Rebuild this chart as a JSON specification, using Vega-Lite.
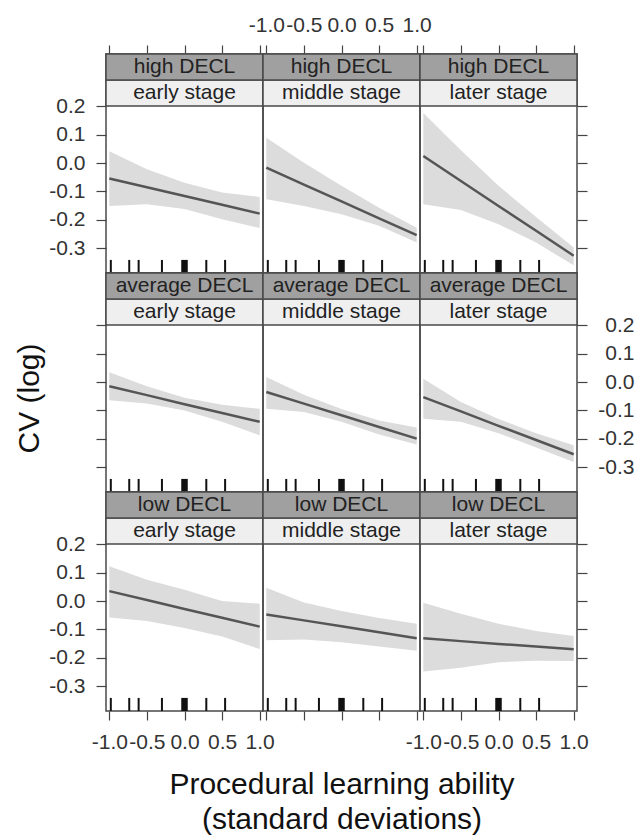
{
  "$schema": "https://vega.github.io/schema/vega-lite/v6.json",
  "padding": {"left": 13, "top": 13, "right": 4, "bottom": 2},
  "background": "white",
  "config": {
    "view": {"stroke": "#4a4a4a", "strokeWidth": 1.5},
    "font": "Liberation Sans",
    "axis": {"labelFont": "Liberation Sans", "labelFontSize": 21, "labelColor": "#333", "labelOverlap": false, "labelFlush": false, "tickColor": "#444", "tickSize": 9, "tickWidth": 1.2, "domain": false, "grid": false, "titleFont": "Liberation Sans", "titleFontSize": 30, "titleFontWeight": "normal", "titleColor": "#111"}
  },
  "datasets": {
    "fx": [
      {"decl": "high DECL", "stage": "early stage", "x": -1, "fit": -0.054, "lower": -0.151, "upper": 0.042},
      {"decl": "high DECL", "stage": "early stage", "x": -0.5, "fit": -0.085, "lower": -0.145, "upper": -0.022},
      {"decl": "high DECL", "stage": "early stage", "x": 0, "fit": -0.116, "lower": -0.162, "upper": -0.069},
      {"decl": "high DECL", "stage": "early stage", "x": 0.5, "fit": -0.147, "lower": -0.198, "upper": -0.104},
      {"decl": "high DECL", "stage": "early stage", "x": 1, "fit": -0.178, "lower": -0.229, "upper": -0.119},
      {"decl": "high DECL", "stage": "middle stage", "x": -1, "fit": -0.016, "lower": -0.127, "upper": 0.089},
      {"decl": "high DECL", "stage": "middle stage", "x": -0.5, "fit": -0.0755, "lower": -0.151, "upper": 0.001},
      {"decl": "high DECL", "stage": "middle stage", "x": 0, "fit": -0.135, "lower": -0.18, "upper": -0.08},
      {"decl": "high DECL", "stage": "middle stage", "x": 0.5, "fit": -0.1945, "lower": -0.221, "upper": -0.157},
      {"decl": "high DECL", "stage": "middle stage", "x": 1, "fit": -0.254, "lower": -0.28, "upper": -0.228},
      {"decl": "high DECL", "stage": "later stage", "x": -1, "fit": 0.025, "lower": -0.145, "upper": 0.176},
      {"decl": "high DECL", "stage": "later stage", "x": -0.5, "fit": -0.063, "lower": -0.165, "upper": 0.045},
      {"decl": "high DECL", "stage": "later stage", "x": 0, "fit": -0.151, "lower": -0.215, "upper": -0.08},
      {"decl": "high DECL", "stage": "later stage", "x": 0.5, "fit": -0.238, "lower": -0.28, "upper": -0.19},
      {"decl": "high DECL", "stage": "later stage", "x": 1, "fit": -0.326, "lower": -0.36, "upper": -0.297},
      {"decl": "average DECL", "stage": "early stage", "x": -1, "fit": -0.015, "lower": -0.064, "upper": 0.035},
      {"decl": "average DECL", "stage": "early stage", "x": -0.5, "fit": -0.046, "lower": -0.075, "upper": -0.015},
      {"decl": "average DECL", "stage": "early stage", "x": 0, "fit": -0.078, "lower": -0.1, "upper": -0.055},
      {"decl": "average DECL", "stage": "early stage", "x": 0.5, "fit": -0.109, "lower": -0.14, "upper": -0.08},
      {"decl": "average DECL", "stage": "early stage", "x": 1, "fit": -0.14, "lower": -0.187, "upper": -0.094},
      {"decl": "average DECL", "stage": "middle stage", "x": -1, "fit": -0.035, "lower": -0.094, "upper": 0.018},
      {"decl": "average DECL", "stage": "middle stage", "x": -0.5, "fit": -0.076, "lower": -0.105, "upper": -0.045},
      {"decl": "average DECL", "stage": "middle stage", "x": 0, "fit": -0.117, "lower": -0.14, "upper": -0.095},
      {"decl": "average DECL", "stage": "middle stage", "x": 0.5, "fit": -0.158, "lower": -0.185, "upper": -0.135},
      {"decl": "average DECL", "stage": "middle stage", "x": 1, "fit": -0.199, "lower": -0.22, "upper": -0.16},
      {"decl": "average DECL", "stage": "later stage", "x": -1, "fit": -0.053, "lower": -0.129, "upper": 0.012},
      {"decl": "average DECL", "stage": "later stage", "x": -0.5, "fit": -0.103, "lower": -0.14, "upper": -0.07},
      {"decl": "average DECL", "stage": "later stage", "x": 0, "fit": -0.154, "lower": -0.18, "upper": -0.13},
      {"decl": "average DECL", "stage": "later stage", "x": 0.5, "fit": -0.204, "lower": -0.23, "upper": -0.18},
      {"decl": "average DECL", "stage": "later stage", "x": 1, "fit": -0.254, "lower": -0.281, "upper": -0.222},
      {"decl": "low DECL", "stage": "early stage", "x": -1, "fit": 0.035, "lower": -0.058, "upper": 0.123},
      {"decl": "low DECL", "stage": "early stage", "x": -0.5, "fit": 0.004, "lower": -0.07, "upper": 0.075},
      {"decl": "low DECL", "stage": "early stage", "x": 0, "fit": -0.028, "lower": -0.095, "upper": 0.04},
      {"decl": "low DECL", "stage": "early stage", "x": 0.5, "fit": -0.059, "lower": -0.125, "upper": 0.0},
      {"decl": "low DECL", "stage": "early stage", "x": 1, "fit": -0.09, "lower": -0.169, "upper": -0.009},
      {"decl": "low DECL", "stage": "middle stage", "x": -1, "fit": -0.047, "lower": -0.138, "upper": 0.047},
      {"decl": "low DECL", "stage": "middle stage", "x": -0.5, "fit": -0.068, "lower": -0.135, "upper": -0.005},
      {"decl": "low DECL", "stage": "middle stage", "x": 0, "fit": -0.089, "lower": -0.145, "upper": -0.035},
      {"decl": "low DECL", "stage": "middle stage", "x": 0.5, "fit": -0.11, "lower": -0.16, "upper": -0.06},
      {"decl": "low DECL", "stage": "middle stage", "x": 1, "fit": -0.131, "lower": -0.175, "upper": -0.08},
      {"decl": "low DECL", "stage": "later stage", "x": -1, "fit": -0.131, "lower": -0.248, "upper": -0.006},
      {"decl": "low DECL", "stage": "later stage", "x": -0.5, "fit": -0.141, "lower": -0.235, "upper": -0.045},
      {"decl": "low DECL", "stage": "later stage", "x": 0, "fit": -0.151, "lower": -0.215, "upper": -0.08},
      {"decl": "low DECL", "stage": "later stage", "x": 0.5, "fit": -0.16, "lower": -0.21, "upper": -0.105},
      {"decl": "low DECL", "stage": "later stage", "x": 1, "fit": -0.17, "lower": -0.211, "upper": -0.123}
    ],
    "rug": [
      {"x": -0.98}, {"x": -0.735}, {"x": -0.61}, {"x": -0.3}, {"x": -0.03}, {"x": -0.015}, {"x": 0}, {"x": 0.015}, {"x": 0.03}, {"x": 0.29}, {"x": 0.54}
    ],
    "panels": [
      {"decl": "high DECL", "stage": "early stage"},
      {"decl": "high DECL", "stage": "middle stage"},
      {"decl": "high DECL", "stage": "later stage"},
      {"decl": "average DECL", "stage": "early stage"},
      {"decl": "average DECL", "stage": "middle stage"},
      {"decl": "average DECL", "stage": "later stage"},
      {"decl": "low DECL", "stage": "early stage"},
      {"decl": "low DECL", "stage": "middle stage"},
      {"decl": "low DECL", "stage": "later stage"}
    ]
  },
  "columns": 3,
  "spacing": 0,
  "bounds": "flush",
  "concat": [
    {
      "width": 157, "height": 219,
      "layer": [
        {"data": {"name": "fx"}, "transform": [{"filter": "datum.decl == 'high DECL' && datum.stage == 'early stage'"}], "mark": {"type": "area", "color": "#dcdcdc"},
         "encoding": {"x": {"field": "x", "type": "quantitative", "scale": {"domain": [-1.044, 1.044], "nice": false, "zero": false},
            "axis": {"orient": "top", "values": [-1, -0.5, 0, 0.5, 1], "tickCount": 10, "title": null, "labels": false}},
          "y": {"field": "lower", "type": "quantitative", "scale": {"domain": [-0.387, 0.384], "nice": false, "zero": false},
            "axis": {"orient": "left", "values": [-0.3, -0.2, -0.1, 0, 0.1, 0.2], "tickCount": 10, "title": null, "tickSize": 10, "labelPadding": 11, "labelExpr": "(datum.value < 0 ? '-' : '') + format(abs(datum.value), '.1f')"}},
          "y2": {"field": "upper"}}},
        {"data": {"name": "fx"}, "transform": [{"filter": "datum.decl == 'high DECL' && datum.stage == 'early stage'"}], "mark": {"type": "line", "color": "#555", "strokeWidth": 2.5},
         "encoding": {"x": {"field": "x", "type": "quantitative"}, "y": {"field": "fit", "type": "quantitative"}}},
        {"data": {"name": "rug"}, "mark": {"type": "rule", "color": "#111", "strokeWidth": 2},
         "encoding": {"x": {"field": "x", "type": "quantitative"}, "y": {"datum": -0.387, "type": "quantitative"}, "y2": {"datum": -0.341}}},
        {"data": {"name": "panels"}, "transform": [{"filter": "datum.decl == 'high DECL' && datum.stage == 'early stage'"}], "mark": {"type": "rect", "fill": "#efefef", "stroke": "#4a4a4a", "strokeWidth": 1.5},
         "encoding": {"x": {"datum": -1.044, "type": "quantitative"}, "x2": {"datum": 1.044}, "y": {"datum": 0.201, "type": "quantitative"}, "y2": {"datum": 0.2925}}},
        {"data": {"name": "panels"}, "transform": [{"filter": "datum.decl == 'high DECL' && datum.stage == 'early stage'"}], "mark": {"type": "rect", "fill": "#a0a0a0", "stroke": "#4a4a4a", "strokeWidth": 1.5},
         "encoding": {"x": {"datum": -1.044, "type": "quantitative"}, "x2": {"datum": 1.044}, "y": {"datum": 0.2925, "type": "quantitative"}, "y2": {"datum": 0.384}}},
        {"data": {"name": "panels"}, "transform": [{"filter": "datum.decl == 'high DECL' && datum.stage == 'early stage'"}], "mark": {"type": "text", "fontSize": 21, "color": "#222", "baseline": "middle"},
         "encoding": {"x": {"datum": 0, "type": "quantitative"}, "y": {"datum": 0.2465, "type": "quantitative"}, "text": {"field": "stage"}}},
        {"data": {"name": "panels"}, "transform": [{"filter": "datum.decl == 'high DECL' && datum.stage == 'early stage'"}], "mark": {"type": "text", "fontSize": 21, "color": "#222", "baseline": "middle"},
         "encoding": {"x": {"datum": 0, "type": "quantitative"}, "y": {"datum": 0.338, "type": "quantitative"}, "text": {"field": "decl"}}}
      ]
    },
    {
      "width": 157, "height": 219,
      "layer": [
        {"data": {"name": "fx"}, "transform": [{"filter": "datum.decl == 'high DECL' && datum.stage == 'middle stage'"}], "mark": {"type": "area", "color": "#dcdcdc"},
         "encoding": {"x": {"field": "x", "type": "quantitative", "scale": {"domain": [-1.044, 1.044], "nice": false, "zero": false},
            "axis": {"orient": "top", "values": [-1, -0.5, 0, 0.5, 1], "tickCount": 10, "title": null, "labels": true, "labelBaseline": "alphabetic", "labelPadding": 14, "labelExpr": "(datum.value < 0 ? '-' : '') + format(abs(datum.value), '.1f')"}},
          "y": {"field": "lower", "type": "quantitative", "scale": {"domain": [-0.387, 0.384], "nice": false, "zero": false}, "axis": null},
          "y2": {"field": "upper"}}},
        {"data": {"name": "fx"}, "transform": [{"filter": "datum.decl == 'high DECL' && datum.stage == 'middle stage'"}], "mark": {"type": "line", "color": "#555", "strokeWidth": 2.5},
         "encoding": {"x": {"field": "x", "type": "quantitative"}, "y": {"field": "fit", "type": "quantitative", "axis": null}}},
        {"data": {"name": "rug"}, "mark": {"type": "rule", "color": "#111", "strokeWidth": 2},
         "encoding": {"x": {"field": "x", "type": "quantitative"}, "y": {"datum": -0.387, "type": "quantitative", "axis": null}, "y2": {"datum": -0.341}}},
        {"data": {"name": "panels"}, "transform": [{"filter": "datum.decl == 'high DECL' && datum.stage == 'middle stage'"}], "mark": {"type": "rect", "fill": "#efefef", "stroke": "#4a4a4a", "strokeWidth": 1.5},
         "encoding": {"x": {"datum": -1.044, "type": "quantitative"}, "x2": {"datum": 1.044}, "y": {"datum": 0.201, "type": "quantitative", "axis": null}, "y2": {"datum": 0.2925}}},
        {"data": {"name": "panels"}, "transform": [{"filter": "datum.decl == 'high DECL' && datum.stage == 'middle stage'"}], "mark": {"type": "rect", "fill": "#a0a0a0", "stroke": "#4a4a4a", "strokeWidth": 1.5},
         "encoding": {"x": {"datum": -1.044, "type": "quantitative"}, "x2": {"datum": 1.044}, "y": {"datum": 0.2925, "type": "quantitative", "axis": null}, "y2": {"datum": 0.384}}},
        {"data": {"name": "panels"}, "transform": [{"filter": "datum.decl == 'high DECL' && datum.stage == 'middle stage'"}], "mark": {"type": "text", "fontSize": 21, "color": "#222", "baseline": "middle"},
         "encoding": {"x": {"datum": 0, "type": "quantitative"}, "y": {"datum": 0.2465, "type": "quantitative", "axis": null}, "text": {"field": "stage"}}},
        {"data": {"name": "panels"}, "transform": [{"filter": "datum.decl == 'high DECL' && datum.stage == 'middle stage'"}], "mark": {"type": "text", "fontSize": 21, "color": "#222", "baseline": "middle"},
         "encoding": {"x": {"datum": 0, "type": "quantitative"}, "y": {"datum": 0.338, "type": "quantitative", "axis": null}, "text": {"field": "decl"}}}
      ]
    },
    {
      "width": 157, "height": 219,
      "layer": [
        {"data": {"name": "fx"}, "transform": [{"filter": "datum.decl == 'high DECL' && datum.stage == 'later stage'"}], "mark": {"type": "area", "color": "#dcdcdc"},
         "encoding": {"x": {"field": "x", "type": "quantitative", "scale": {"domain": [-1.044, 1.044], "nice": false, "zero": false},
            "axis": {"orient": "top", "values": [-1, -0.5, 0, 0.5, 1], "tickCount": 10, "title": null, "labels": false}},
          "y": {"field": "lower", "type": "quantitative", "scale": {"domain": [-0.387, 0.384], "nice": false, "zero": false},
            "axis": {"orient": "right", "values": [-0.3, -0.2, -0.1, 0, 0.1, 0.2], "tickCount": 10, "title": null, "tickSize": 10, "labels": false}},
          "y2": {"field": "upper"}}},
        {"data": {"name": "fx"}, "transform": [{"filter": "datum.decl == 'high DECL' && datum.stage == 'later stage'"}], "mark": {"type": "line", "color": "#555", "strokeWidth": 2.5},
         "encoding": {"x": {"field": "x", "type": "quantitative"}, "y": {"field": "fit", "type": "quantitative"}}},
        {"data": {"name": "rug"}, "mark": {"type": "rule", "color": "#111", "strokeWidth": 2},
         "encoding": {"x": {"field": "x", "type": "quantitative"}, "y": {"datum": -0.387, "type": "quantitative"}, "y2": {"datum": -0.341}}},
        {"data": {"name": "panels"}, "transform": [{"filter": "datum.decl == 'high DECL' && datum.stage == 'later stage'"}], "mark": {"type": "rect", "fill": "#efefef", "stroke": "#4a4a4a", "strokeWidth": 1.5},
         "encoding": {"x": {"datum": -1.044, "type": "quantitative"}, "x2": {"datum": 1.044}, "y": {"datum": 0.201, "type": "quantitative"}, "y2": {"datum": 0.2925}}},
        {"data": {"name": "panels"}, "transform": [{"filter": "datum.decl == 'high DECL' && datum.stage == 'later stage'"}], "mark": {"type": "rect", "fill": "#a0a0a0", "stroke": "#4a4a4a", "strokeWidth": 1.5},
         "encoding": {"x": {"datum": -1.044, "type": "quantitative"}, "x2": {"datum": 1.044}, "y": {"datum": 0.2925, "type": "quantitative"}, "y2": {"datum": 0.384}}},
        {"data": {"name": "panels"}, "transform": [{"filter": "datum.decl == 'high DECL' && datum.stage == 'later stage'"}], "mark": {"type": "text", "fontSize": 21, "color": "#222", "baseline": "middle"},
         "encoding": {"x": {"datum": 0, "type": "quantitative"}, "y": {"datum": 0.2465, "type": "quantitative"}, "text": {"field": "stage"}}},
        {"data": {"name": "panels"}, "transform": [{"filter": "datum.decl == 'high DECL' && datum.stage == 'later stage'"}], "mark": {"type": "text", "fontSize": 21, "color": "#222", "baseline": "middle"},
         "encoding": {"x": {"datum": 0, "type": "quantitative"}, "y": {"datum": 0.338, "type": "quantitative"}, "text": {"field": "decl"}}}
      ]
    },
    {
      "width": 157, "height": 219,
      "layer": [
        {"data": {"name": "fx"}, "transform": [{"filter": "datum.decl == 'average DECL' && datum.stage == 'early stage'"}], "mark": {"type": "area", "color": "#dcdcdc"},
         "encoding": {"x": {"field": "x", "type": "quantitative", "scale": {"domain": [-1.044, 1.044], "nice": false, "zero": false}, "axis": null},
          "y": {"field": "lower", "type": "quantitative", "scale": {"domain": [-0.387, 0.384], "nice": false, "zero": false},
            "axis": {"orient": "left", "values": [-0.3, -0.2, -0.1, 0, 0.1, 0.2], "tickCount": 10, "tickSize": 10, "labels": false, "title": "CV (log)", "titleX": -77, "titleY": 125, "titleAngle": -90, "titleAlign": "center", "titleBaseline": "middle"}},
          "y2": {"field": "upper"}}},
        {"data": {"name": "fx"}, "transform": [{"filter": "datum.decl == 'average DECL' && datum.stage == 'early stage'"}], "mark": {"type": "line", "color": "#555", "strokeWidth": 2.5},
         "encoding": {"x": {"field": "x", "type": "quantitative", "axis": null}, "y": {"field": "fit", "type": "quantitative"}}},
        {"data": {"name": "rug"}, "mark": {"type": "rule", "color": "#111", "strokeWidth": 2},
         "encoding": {"x": {"field": "x", "type": "quantitative", "axis": null}, "y": {"datum": -0.387, "type": "quantitative"}, "y2": {"datum": -0.341}}},
        {"data": {"name": "panels"}, "transform": [{"filter": "datum.decl == 'average DECL' && datum.stage == 'early stage'"}], "mark": {"type": "rect", "fill": "#efefef", "stroke": "#4a4a4a", "strokeWidth": 1.5},
         "encoding": {"x": {"datum": -1.044, "type": "quantitative", "axis": null}, "x2": {"datum": 1.044}, "y": {"datum": 0.201, "type": "quantitative"}, "y2": {"datum": 0.2925}}},
        {"data": {"name": "panels"}, "transform": [{"filter": "datum.decl == 'average DECL' && datum.stage == 'early stage'"}], "mark": {"type": "rect", "fill": "#a0a0a0", "stroke": "#4a4a4a", "strokeWidth": 1.5},
         "encoding": {"x": {"datum": -1.044, "type": "quantitative", "axis": null}, "x2": {"datum": 1.044}, "y": {"datum": 0.2925, "type": "quantitative"}, "y2": {"datum": 0.384}}},
        {"data": {"name": "panels"}, "transform": [{"filter": "datum.decl == 'average DECL' && datum.stage == 'early stage'"}], "mark": {"type": "text", "fontSize": 21, "color": "#222", "baseline": "middle"},
         "encoding": {"x": {"datum": 0, "type": "quantitative", "axis": null}, "y": {"datum": 0.2465, "type": "quantitative"}, "text": {"field": "stage"}}},
        {"data": {"name": "panels"}, "transform": [{"filter": "datum.decl == 'average DECL' && datum.stage == 'early stage'"}], "mark": {"type": "text", "fontSize": 21, "color": "#222", "baseline": "middle"},
         "encoding": {"x": {"datum": 0, "type": "quantitative", "axis": null}, "y": {"datum": 0.338, "type": "quantitative"}, "text": {"field": "decl"}}}
      ]
    },
    {
      "width": 157, "height": 219,
      "layer": [
        {"data": {"name": "fx"}, "transform": [{"filter": "datum.decl == 'average DECL' && datum.stage == 'middle stage'"}], "mark": {"type": "area", "color": "#dcdcdc"},
         "encoding": {"x": {"field": "x", "type": "quantitative", "scale": {"domain": [-1.044, 1.044], "nice": false, "zero": false}, "axis": null},
          "y": {"field": "lower", "type": "quantitative", "scale": {"domain": [-0.387, 0.384], "nice": false, "zero": false}, "axis": null},
          "y2": {"field": "upper"}}},
        {"data": {"name": "fx"}, "transform": [{"filter": "datum.decl == 'average DECL' && datum.stage == 'middle stage'"}], "mark": {"type": "line", "color": "#555", "strokeWidth": 2.5},
         "encoding": {"x": {"field": "x", "type": "quantitative", "axis": null}, "y": {"field": "fit", "type": "quantitative", "axis": null}}},
        {"data": {"name": "rug"}, "mark": {"type": "rule", "color": "#111", "strokeWidth": 2},
         "encoding": {"x": {"field": "x", "type": "quantitative", "axis": null}, "y": {"datum": -0.387, "type": "quantitative", "axis": null}, "y2": {"datum": -0.341}}},
        {"data": {"name": "panels"}, "transform": [{"filter": "datum.decl == 'average DECL' && datum.stage == 'middle stage'"}], "mark": {"type": "rect", "fill": "#efefef", "stroke": "#4a4a4a", "strokeWidth": 1.5},
         "encoding": {"x": {"datum": -1.044, "type": "quantitative", "axis": null}, "x2": {"datum": 1.044}, "y": {"datum": 0.201, "type": "quantitative", "axis": null}, "y2": {"datum": 0.2925}}},
        {"data": {"name": "panels"}, "transform": [{"filter": "datum.decl == 'average DECL' && datum.stage == 'middle stage'"}], "mark": {"type": "rect", "fill": "#a0a0a0", "stroke": "#4a4a4a", "strokeWidth": 1.5},
         "encoding": {"x": {"datum": -1.044, "type": "quantitative", "axis": null}, "x2": {"datum": 1.044}, "y": {"datum": 0.2925, "type": "quantitative", "axis": null}, "y2": {"datum": 0.384}}},
        {"data": {"name": "panels"}, "transform": [{"filter": "datum.decl == 'average DECL' && datum.stage == 'middle stage'"}], "mark": {"type": "text", "fontSize": 21, "color": "#222", "baseline": "middle"},
         "encoding": {"x": {"datum": 0, "type": "quantitative", "axis": null}, "y": {"datum": 0.2465, "type": "quantitative", "axis": null}, "text": {"field": "stage"}}},
        {"data": {"name": "panels"}, "transform": [{"filter": "datum.decl == 'average DECL' && datum.stage == 'middle stage'"}], "mark": {"type": "text", "fontSize": 21, "color": "#222", "baseline": "middle"},
         "encoding": {"x": {"datum": 0, "type": "quantitative", "axis": null}, "y": {"datum": 0.338, "type": "quantitative", "axis": null}, "text": {"field": "decl"}}}
      ]
    },
    {
      "width": 157, "height": 219,
      "layer": [
        {"data": {"name": "fx"}, "transform": [{"filter": "datum.decl == 'average DECL' && datum.stage == 'later stage'"}], "mark": {"type": "area", "color": "#dcdcdc"},
         "encoding": {"x": {"field": "x", "type": "quantitative", "scale": {"domain": [-1.044, 1.044], "nice": false, "zero": false}, "axis": null},
          "y": {"field": "lower", "type": "quantitative", "scale": {"domain": [-0.387, 0.384], "nice": false, "zero": false},
            "axis": {"orient": "right", "values": [-0.3, -0.2, -0.1, 0, 0.1, 0.2], "tickCount": 10, "title": null, "tickSize": 10, "labels": true, "labelAlign": "right", "labelPadding": 47, "labelExpr": "(datum.value < 0 ? '-' : '') + format(abs(datum.value), '.1f')"}},
          "y2": {"field": "upper"}}},
        {"data": {"name": "fx"}, "transform": [{"filter": "datum.decl == 'average DECL' && datum.stage == 'later stage'"}], "mark": {"type": "line", "color": "#555", "strokeWidth": 2.5},
         "encoding": {"x": {"field": "x", "type": "quantitative", "axis": null}, "y": {"field": "fit", "type": "quantitative"}}},
        {"data": {"name": "rug"}, "mark": {"type": "rule", "color": "#111", "strokeWidth": 2},
         "encoding": {"x": {"field": "x", "type": "quantitative", "axis": null}, "y": {"datum": -0.387, "type": "quantitative"}, "y2": {"datum": -0.341}}},
        {"data": {"name": "panels"}, "transform": [{"filter": "datum.decl == 'average DECL' && datum.stage == 'later stage'"}], "mark": {"type": "rect", "fill": "#efefef", "stroke": "#4a4a4a", "strokeWidth": 1.5},
         "encoding": {"x": {"datum": -1.044, "type": "quantitative", "axis": null}, "x2": {"datum": 1.044}, "y": {"datum": 0.201, "type": "quantitative"}, "y2": {"datum": 0.2925}}},
        {"data": {"name": "panels"}, "transform": [{"filter": "datum.decl == 'average DECL' && datum.stage == 'later stage'"}], "mark": {"type": "rect", "fill": "#a0a0a0", "stroke": "#4a4a4a", "strokeWidth": 1.5},
         "encoding": {"x": {"datum": -1.044, "type": "quantitative", "axis": null}, "x2": {"datum": 1.044}, "y": {"datum": 0.2925, "type": "quantitative"}, "y2": {"datum": 0.384}}},
        {"data": {"name": "panels"}, "transform": [{"filter": "datum.decl == 'average DECL' && datum.stage == 'later stage'"}], "mark": {"type": "text", "fontSize": 21, "color": "#222", "baseline": "middle"},
         "encoding": {"x": {"datum": 0, "type": "quantitative", "axis": null}, "y": {"datum": 0.2465, "type": "quantitative"}, "text": {"field": "stage"}}},
        {"data": {"name": "panels"}, "transform": [{"filter": "datum.decl == 'average DECL' && datum.stage == 'later stage'"}], "mark": {"type": "text", "fontSize": 21, "color": "#222", "baseline": "middle"},
         "encoding": {"x": {"datum": 0, "type": "quantitative", "axis": null}, "y": {"datum": 0.338, "type": "quantitative"}, "text": {"field": "decl"}}}
      ]
    },
    {
      "width": 157, "height": 219,
      "layer": [
        {"data": {"name": "fx"}, "transform": [{"filter": "datum.decl == 'low DECL' && datum.stage == 'early stage'"}], "mark": {"type": "area", "color": "#dcdcdc"},
         "encoding": {"x": {"field": "x", "type": "quantitative", "scale": {"domain": [-1.044, 1.044], "nice": false, "zero": false},
            "axis": {"orient": "bottom", "values": [-1, -0.5, 0, 0.5, 1], "tickCount": 10, "title": null, "labels": true, "labelBaseline": "top", "labelPadding": 11, "labelExpr": "(datum.value < 0 ? '-' : '') + format(abs(datum.value), '.1f')"}},
          "y": {"field": "lower", "type": "quantitative", "scale": {"domain": [-0.387, 0.384], "nice": false, "zero": false},
            "axis": {"orient": "left", "values": [-0.3, -0.2, -0.1, 0, 0.1, 0.2], "tickCount": 10, "title": null, "tickSize": 10, "labelPadding": 11, "labelExpr": "(datum.value < 0 ? '-' : '') + format(abs(datum.value), '.1f')"}},
          "y2": {"field": "upper"}}},
        {"data": {"name": "fx"}, "transform": [{"filter": "datum.decl == 'low DECL' && datum.stage == 'early stage'"}], "mark": {"type": "line", "color": "#555", "strokeWidth": 2.5},
         "encoding": {"x": {"field": "x", "type": "quantitative"}, "y": {"field": "fit", "type": "quantitative"}}},
        {"data": {"name": "rug"}, "mark": {"type": "rule", "color": "#111", "strokeWidth": 2},
         "encoding": {"x": {"field": "x", "type": "quantitative"}, "y": {"datum": -0.387, "type": "quantitative"}, "y2": {"datum": -0.341}}},
        {"data": {"name": "panels"}, "transform": [{"filter": "datum.decl == 'low DECL' && datum.stage == 'early stage'"}], "mark": {"type": "rect", "fill": "#efefef", "stroke": "#4a4a4a", "strokeWidth": 1.5},
         "encoding": {"x": {"datum": -1.044, "type": "quantitative"}, "x2": {"datum": 1.044}, "y": {"datum": 0.201, "type": "quantitative"}, "y2": {"datum": 0.2925}}},
        {"data": {"name": "panels"}, "transform": [{"filter": "datum.decl == 'low DECL' && datum.stage == 'early stage'"}], "mark": {"type": "rect", "fill": "#a0a0a0", "stroke": "#4a4a4a", "strokeWidth": 1.5},
         "encoding": {"x": {"datum": -1.044, "type": "quantitative"}, "x2": {"datum": 1.044}, "y": {"datum": 0.2925, "type": "quantitative"}, "y2": {"datum": 0.384}}},
        {"data": {"name": "panels"}, "transform": [{"filter": "datum.decl == 'low DECL' && datum.stage == 'early stage'"}], "mark": {"type": "text", "fontSize": 21, "color": "#222", "baseline": "middle"},
         "encoding": {"x": {"datum": 0, "type": "quantitative"}, "y": {"datum": 0.2465, "type": "quantitative"}, "text": {"field": "stage"}}},
        {"data": {"name": "panels"}, "transform": [{"filter": "datum.decl == 'low DECL' && datum.stage == 'early stage'"}], "mark": {"type": "text", "fontSize": 21, "color": "#222", "baseline": "middle"},
         "encoding": {"x": {"datum": 0, "type": "quantitative"}, "y": {"datum": 0.338, "type": "quantitative"}, "text": {"field": "decl"}}}
      ]
    },
    {
      "width": 157, "height": 219,
      "layer": [
        {"data": {"name": "fx"}, "transform": [{"filter": "datum.decl == 'low DECL' && datum.stage == 'middle stage'"}], "mark": {"type": "area", "color": "#dcdcdc"},
         "encoding": {"x": {"field": "x", "type": "quantitative", "scale": {"domain": [-1.044, 1.044], "nice": false, "zero": false},
            "axis": {"orient": "bottom", "values": [-1, -0.5, 0, 0.5, 1], "tickCount": 10, "labels": false, "title": ["Procedural learning ability", "(standard deviations)"], "titleY": 58, "titleBaseline": "top", "titleLineHeight": 35}},
          "y": {"field": "lower", "type": "quantitative", "scale": {"domain": [-0.387, 0.384], "nice": false, "zero": false}, "axis": null},
          "y2": {"field": "upper"}}},
        {"data": {"name": "fx"}, "transform": [{"filter": "datum.decl == 'low DECL' && datum.stage == 'middle stage'"}], "mark": {"type": "line", "color": "#555", "strokeWidth": 2.5},
         "encoding": {"x": {"field": "x", "type": "quantitative"}, "y": {"field": "fit", "type": "quantitative", "axis": null}}},
        {"data": {"name": "rug"}, "mark": {"type": "rule", "color": "#111", "strokeWidth": 2},
         "encoding": {"x": {"field": "x", "type": "quantitative"}, "y": {"datum": -0.387, "type": "quantitative", "axis": null}, "y2": {"datum": -0.341}}},
        {"data": {"name": "panels"}, "transform": [{"filter": "datum.decl == 'low DECL' && datum.stage == 'middle stage'"}], "mark": {"type": "rect", "fill": "#efefef", "stroke": "#4a4a4a", "strokeWidth": 1.5},
         "encoding": {"x": {"datum": -1.044, "type": "quantitative"}, "x2": {"datum": 1.044}, "y": {"datum": 0.201, "type": "quantitative", "axis": null}, "y2": {"datum": 0.2925}}},
        {"data": {"name": "panels"}, "transform": [{"filter": "datum.decl == 'low DECL' && datum.stage == 'middle stage'"}], "mark": {"type": "rect", "fill": "#a0a0a0", "stroke": "#4a4a4a", "strokeWidth": 1.5},
         "encoding": {"x": {"datum": -1.044, "type": "quantitative"}, "x2": {"datum": 1.044}, "y": {"datum": 0.2925, "type": "quantitative", "axis": null}, "y2": {"datum": 0.384}}},
        {"data": {"name": "panels"}, "transform": [{"filter": "datum.decl == 'low DECL' && datum.stage == 'middle stage'"}], "mark": {"type": "text", "fontSize": 21, "color": "#222", "baseline": "middle"},
         "encoding": {"x": {"datum": 0, "type": "quantitative"}, "y": {"datum": 0.2465, "type": "quantitative", "axis": null}, "text": {"field": "stage"}}},
        {"data": {"name": "panels"}, "transform": [{"filter": "datum.decl == 'low DECL' && datum.stage == 'middle stage'"}], "mark": {"type": "text", "fontSize": 21, "color": "#222", "baseline": "middle"},
         "encoding": {"x": {"datum": 0, "type": "quantitative"}, "y": {"datum": 0.338, "type": "quantitative", "axis": null}, "text": {"field": "decl"}}}
      ]
    },
    {
      "width": 157, "height": 219,
      "layer": [
        {"data": {"name": "fx"}, "transform": [{"filter": "datum.decl == 'low DECL' && datum.stage == 'later stage'"}], "mark": {"type": "area", "color": "#dcdcdc"},
         "encoding": {"x": {"field": "x", "type": "quantitative", "scale": {"domain": [-1.044, 1.044], "nice": false, "zero": false},
            "axis": {"orient": "bottom", "values": [-1, -0.5, 0, 0.5, 1], "tickCount": 10, "title": null, "labels": true, "labelBaseline": "top", "labelPadding": 11, "labelExpr": "(datum.value < 0 ? '-' : '') + format(abs(datum.value), '.1f')"}},
          "y": {"field": "lower", "type": "quantitative", "scale": {"domain": [-0.387, 0.384], "nice": false, "zero": false},
            "axis": {"orient": "right", "values": [-0.3, -0.2, -0.1, 0, 0.1, 0.2], "tickCount": 10, "title": null, "tickSize": 10, "labels": false}},
          "y2": {"field": "upper"}}},
        {"data": {"name": "fx"}, "transform": [{"filter": "datum.decl == 'low DECL' && datum.stage == 'later stage'"}], "mark": {"type": "line", "color": "#555", "strokeWidth": 2.5},
         "encoding": {"x": {"field": "x", "type": "quantitative"}, "y": {"field": "fit", "type": "quantitative"}}},
        {"data": {"name": "rug"}, "mark": {"type": "rule", "color": "#111", "strokeWidth": 2},
         "encoding": {"x": {"field": "x", "type": "quantitative"}, "y": {"datum": -0.387, "type": "quantitative"}, "y2": {"datum": -0.341}}},
        {"data": {"name": "panels"}, "transform": [{"filter": "datum.decl == 'low DECL' && datum.stage == 'later stage'"}], "mark": {"type": "rect", "fill": "#efefef", "stroke": "#4a4a4a", "strokeWidth": 1.5},
         "encoding": {"x": {"datum": -1.044, "type": "quantitative"}, "x2": {"datum": 1.044}, "y": {"datum": 0.201, "type": "quantitative"}, "y2": {"datum": 0.2925}}},
        {"data": {"name": "panels"}, "transform": [{"filter": "datum.decl == 'low DECL' && datum.stage == 'later stage'"}], "mark": {"type": "rect", "fill": "#a0a0a0", "stroke": "#4a4a4a", "strokeWidth": 1.5},
         "encoding": {"x": {"datum": -1.044, "type": "quantitative"}, "x2": {"datum": 1.044}, "y": {"datum": 0.2925, "type": "quantitative"}, "y2": {"datum": 0.384}}},
        {"data": {"name": "panels"}, "transform": [{"filter": "datum.decl == 'low DECL' && datum.stage == 'later stage'"}], "mark": {"type": "text", "fontSize": 21, "color": "#222", "baseline": "middle"},
         "encoding": {"x": {"datum": 0, "type": "quantitative"}, "y": {"datum": 0.2465, "type": "quantitative"}, "text": {"field": "stage"}}},
        {"data": {"name": "panels"}, "transform": [{"filter": "datum.decl == 'low DECL' && datum.stage == 'later stage'"}], "mark": {"type": "text", "fontSize": 21, "color": "#222", "baseline": "middle"},
         "encoding": {"x": {"datum": 0, "type": "quantitative"}, "y": {"datum": 0.338, "type": "quantitative"}, "text": {"field": "decl"}}}
      ]
    }
  ]
}
